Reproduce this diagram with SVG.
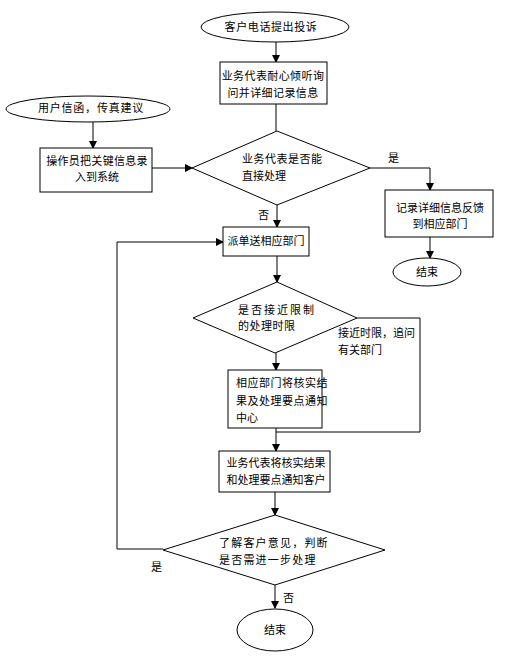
<svg xmlns="http://www.w3.org/2000/svg" width="506" height="656" viewBox="0 0 506 656">
<defs>
<marker id="arr" markerWidth="8" markerHeight="8" refX="7" refY="4" orient="auto" markerUnits="userSpaceOnUse">
<path d="M0,0 L8,4 L0,8 Z" fill="#000"/>
</marker>
<style>
.s{fill:#fff;stroke:#000;stroke-width:1}
.t{font-family:"Liberation Sans","Noto Sans CJK SC",sans-serif;font-size:11px;fill:#000;dominant-baseline:central}
.c{text-anchor:middle}
.l{fill:none;stroke:#000;stroke-width:1}
</style>
</defs>
<rect width="506" height="656" fill="#fff"/>
<g id="connectors">
<path class="l" d="M276,42 V62" marker-end="url(#arr)"/>
<path class="l" d="M276,104 V131"/>
<path class="l" d="M93,122 V148" marker-end="url(#arr)"/>
<path class="l" d="M152,168 H192" marker-end="url(#arr)"/>
<path class="l" d="M370,168 H430 V190" marker-end="url(#arr)"/>
<path class="l" d="M430,237 V258" marker-end="url(#arr)"/>
<path class="l" d="M277,205 V227" marker-end="url(#arr)"/>
<path class="l" d="M277,256 V282" marker-end="url(#arr)"/>
<path class="l" d="M276,353 V370" marker-end="url(#arr)"/>
<path class="l" d="M357,318 H420 V432 H276"/>
<path class="l" d="M276,428 V451" marker-end="url(#arr)"/>
<path class="l" d="M275,492 V515" marker-end="url(#arr)"/>
<path class="l" d="M163,549 H117 V242 H223" marker-end="url(#arr)"/>
<path class="l" d="M275,585 V608" marker-end="url(#arr)"/>
<text class="t" x="388" y="158">是</text>
<text class="t" x="258" y="215">否</text>
<text class="t" x="338" y="333">接近时限，追问</text>
<text class="t" x="338" y="350">有关部门</text>
<text class="t" x="151" y="567">是</text>
<text class="t" x="283" y="598">否</text>
</g>
<g id="start1">
<ellipse class="s" cx="275" cy="27" rx="74" ry="15"/>
<text class="t c" x="271" y="27" letter-spacing="0.6">客户电话提出投诉</text>
</g>
<g id="listen">
<rect class="s" x="220" y="62" width="107" height="42"/>
<text class="t c" x="273" y="76" letter-spacing="0.4">业务代表耐心倾听询</text>
<text class="t c" x="273" y="93" letter-spacing="0.4">问并详细记录信息</text>
</g>
<g id="start2">
<ellipse class="s" cx="88" cy="109" rx="82" ry="13"/>
<text class="t c" x="91" y="108" letter-spacing="0.8">用户信函，传真建议</text>
</g>
<g id="operator">
<rect class="s" x="40" y="148" width="112" height="44"/>
<text class="t c" x="97" y="161" letter-spacing="0.3">操作员把关键信息录</text>
<text class="t c" x="97" y="177">入到系统</text>
</g>
<g id="decide1">
<polygon class="s" points="277,131 370,168 277,205 192,168"/>
<text class="t" x="242" y="159" letter-spacing="0.5">业务代表是否能</text>
<text class="t" x="242" y="176">直接处理</text>
</g>
<g id="record">
<rect class="s" x="385" y="190" width="108" height="47"/>
<text class="t c" x="440" y="208">记录详细信息反馈</text>
<text class="t c" x="440" y="224">到相应部门</text>
</g>
<g id="end1">
<ellipse class="s" cx="427" cy="272" rx="34" ry="14"/>
<text class="t c" x="427" y="272">结束</text>
</g>
<g id="dispatch">
<rect class="s" x="223" y="227" width="86" height="29"/>
<text class="t c" x="266" y="241">派单送相应部门</text>
</g>
<g id="decide2">
<polygon class="s" points="277,282 357,318 275,353 193,318"/>
<text class="t" x="238" y="310" letter-spacing="2">是否接近限制</text>
<text class="t" x="238" y="326" letter-spacing="0.5">的处理时限</text>
</g>
<g id="dept">
<rect class="s" x="228" y="370" width="94" height="58"/>
<text class="t" x="236" y="383" letter-spacing="0.5">相应部门将核实结</text>
<text class="t" x="236" y="401" letter-spacing="0.5">果及处理要点通知</text>
<text class="t" x="236" y="418">中心</text>
</g>
<g id="notify">
<rect class="s" x="219" y="451" width="111" height="41"/>
<text class="t c" x="276" y="463">业务代表将核实结果</text>
<text class="t c" x="276" y="480">和处理要点通知客户</text>
</g>
<g id="decide3">
<polygon class="s" points="275,515 385,550 275,585 163,550"/>
<text class="t" x="219" y="543" letter-spacing="1.2">了解客户意见，判断</text>
<text class="t" x="219" y="560" letter-spacing="1.2">是否需进一步处理</text>
</g>
<g id="end2">
<ellipse class="s" cx="275" cy="630" rx="38" ry="21"/>
<text class="t c" x="275" y="630">结束</text>
</g>
</svg>
